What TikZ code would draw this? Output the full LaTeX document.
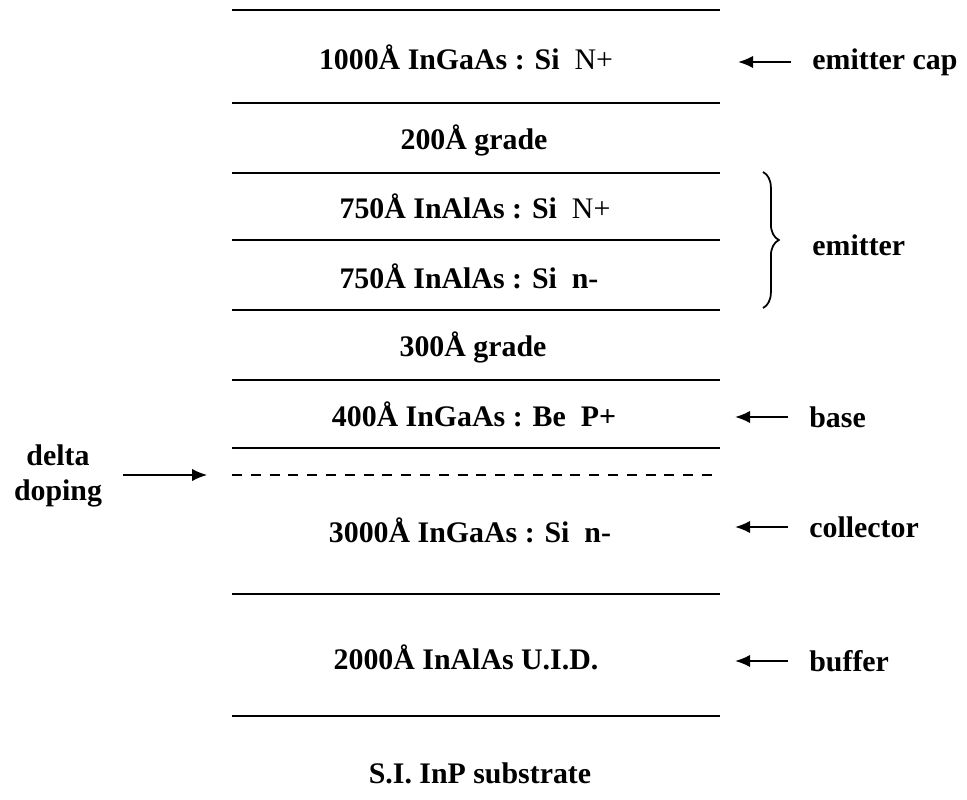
\documentclass[tikz,border=0pt]{standalone}
\usepackage{fontspec}
\setmainfont{Liberation Serif}
\usepackage{tikz}
\usetikzlibrary{arrows.meta, positioning, decorations.pathreplacing}

\begin{document}
\begin{tikzpicture}[x=0.02cm, y=-0.02cm,
    layertxt/.style={font=\fontsize{17}{20}\selectfont\bfseries, inner sep=0pt},
    sidetxt/.style={font=\fontsize{17}{20}\selectfont\bfseries, inner sep=0pt, anchor=west},
    layerline/.style={line width=1.5pt},
    pointer/.style={line width=0.8pt, -{Latex[length=8.5pt, width=7pt]}}]
  \useasboundingbox (0,0) rectangle (967,800);
  % layer boundaries
  \foreach \yy in {10,103,173,240,310,380,448,594,716}
    \draw[layerline] (232,\yy) -- (720,\yy);
  \draw[layerline, dash pattern=on 5.7pt off 5pt] (232,475) -- (720,475);
  % layers
  \node[layertxt] (cap) at (466,57) {1000Å InGaAs : Si\ \ \textmd{N+}};
  \node[layertxt] (grdA) at (474,140) {200Å grade};
  \node[layertxt] (emA) at (475,206) {750Å InAlAs : Si\ \ \textmd{N+}};
  \node[layertxt] (emB) at (469,276) {750Å InAlAs : Si\ \ n-};
  \node[layertxt] (grdB) at (473,347) {300Å grade};
  \node[layertxt] (bas) at (474,414) {400Å InGaAs : Be\ \ P+};
  \node[layertxt] (col) at (470,530) {3000Å InGaAs : Si\ \ n-};
  \node[layertxt] (buf) at (466,657) {2000Å InAlAs U.I.D.};
  \node[layertxt] (sub) at (480,773) {S.I. InP substrate};
  % labels on the right
  \node[sidetxt] (lcap) at (812,62) {emitter cap};
  \node[sidetxt] (lem) at (812,245) {emitter};
  \node[sidetxt] (lbas) at (809,417) {base};
  \node[sidetxt] (lcol) at (809,527) {collector};
  \node[sidetxt] (lbuf) at (809,661) {buffer};
  \foreach \lbl in {lcap,lbas,lcol,lbuf}
    \draw[pointer] ([xshift=-12pt]\lbl.west) -- ([xshift=-42pt]\lbl.west);
  \draw[line width=1pt, decorate, decoration={brace, amplitude=9pt}]
    (763,172) -- (763,308);
  % delta doping
  \node[layertxt, align=center] (dlt) at (58,476) {delta\\doping};
  \coordinate (dtip) at (207,475);
  \draw[pointer] (123,475) -- (dtip);
\end{tikzpicture}
\end{document}
